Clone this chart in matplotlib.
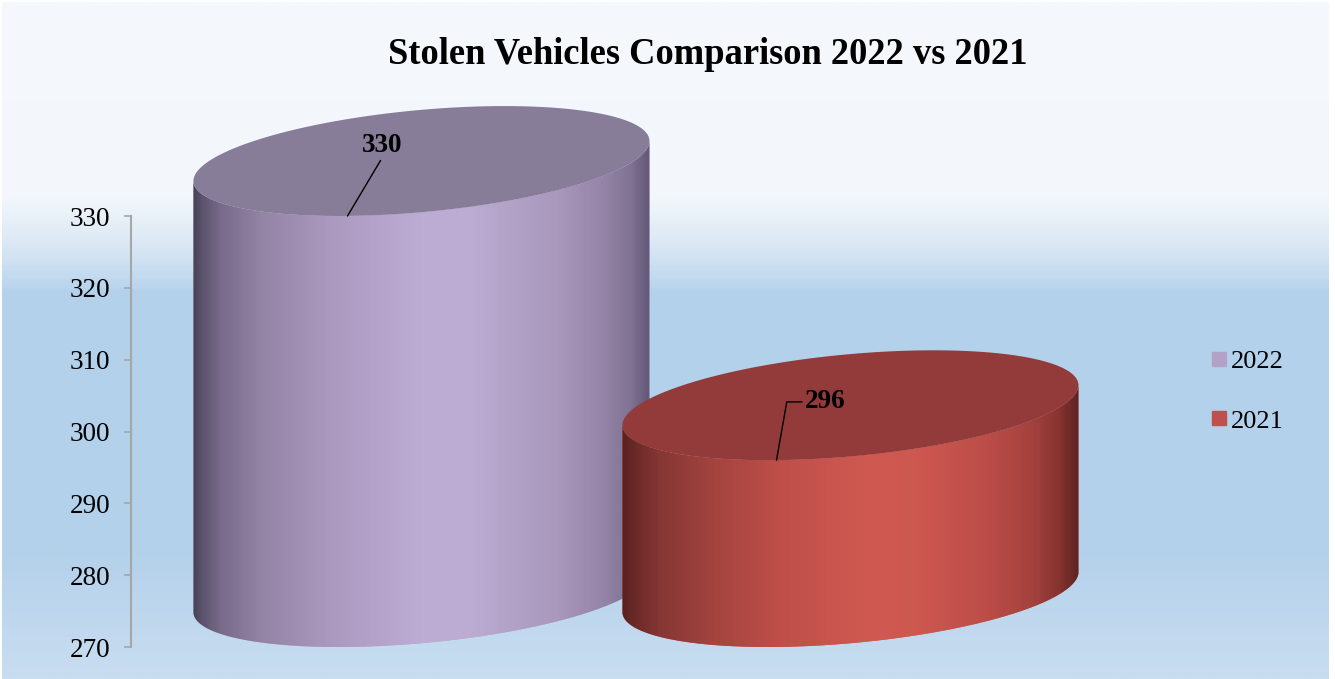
import numpy as np
import matplotlib
matplotlib.use("Agg")
import matplotlib.pyplot as plt
from matplotlib.colors import LinearSegmentedColormap
from matplotlib.patches import Polygon
from matplotlib.lines import Line2D

# data
years = ["2022", "2021"]
stolen = [330, 296]
yticks = [270, 280, 290, 300, 310, 320, 330]

plt.rcParams['font.family'] = ['Liberation Serif', 'DejaVu Serif']

W, H = 1335, 679
fig = plt.figure(figsize=(W / 100, H / 100), dpi=100)

# background gradient (white on top, light blue below)
bg = fig.add_axes([2 / W, 0, (W - 8) / W, (H - 2) / H])
bg_cmap = LinearSegmentedColormap.from_list("bg", [
    (0.0, "#F5F8FC"), (195 / 679, "#F3F7FB"), (245 / 679, "#D9E7F4"),
    (284 / 679, "#BCD6EE"), (290 / 679, "#B3D1EB"), (560 / 679, "#B5D2EB"),
    (1.0, "#C9DDF0")])
bg.imshow(np.linspace(0, 1, 400).reshape(-1, 1), cmap=bg_cmap, aspect='auto')
bg.axis('off')

# main axes: y scale 270..330 on the left spine, room above for the cylinder tops
ymin, ymax = 268, 348
ppu = 431 / 60  # pixels per y unit
bot_px = 647 + (270 - ymin) * ppu
top_px = 216 - (ymax - 330) * ppu
ax = fig.add_axes([131 / W, (H - bot_px) / H, (1110 - 131) / W, (bot_px - top_px) / H])
ax.patch.set_visible(False)

x = np.arange(len(stolen))
width = 1.063
a = width / 2
b = 51.2 / ppu   # vertical radius of the ellipse
s = 20 / ppu     # tilt of the ellipse (right side higher)
half = np.hypot(b, s)
base = 270

side_colors = [
    [(0.0, "#4B4459"), (0.02, "#5E5570"), (0.06, "#786C8A"), (0.15, "#9484A6"),
     (0.32, "#AE9BC2"), (0.5, "#BCABD3"), (0.6, "#BDACD3"), (0.8, "#A998BC"),
     (0.9, "#9584A8"), (0.96, "#807393"), (1.0, "#65597A")],
    [(0.0, "#5A2220"), (0.03, "#6E2B29"), (0.08, "#853734"), (0.2, "#A4443F"),
     (0.35, "#BF4F49"), (0.55, "#D05A52"), (0.65, "#CD5850"), (0.8, "#BC4D48"),
     (0.9, "#A4423E"), (0.96, "#86332F"), (1.0, "#5F2522")],
]
top_colors = ["#877D99", "#933B3A"]
legend_colors = ["#B3A2C7", "#C0504D"]

t_front = np.linspace(np.pi, 2 * np.pi, 200)
t_all = np.linspace(0, 2 * np.pi, 400)

for i, v in enumerate(stolen):
    xc = x[i]
    yb = base + half   # centre of bottom ellipse
    yt = v + half      # centre of top ellipse (front edge sits at the value)
    z = 2 + 2 * i

    bx = xc + a * np.cos(t_front)
    by = yb + b * np.sin(t_front) + s * np.cos(t_front)
    tx = xc + a * np.cos(t_front[::-1])
    ty = yt + b * np.sin(t_front[::-1]) + s * np.cos(t_front[::-1])
    side = Polygon(np.column_stack([np.r_[bx, tx], np.r_[by, ty]]), closed=True,
                   facecolor=side_colors[i][5][1], edgecolor='none', zorder=z)
    ax.add_patch(side)

    cmap = LinearSegmentedColormap.from_list("side%d" % i, side_colors[i])
    im = ax.imshow(np.linspace(0, 1, 300).reshape(1, -1), cmap=cmap, aspect='auto',
                   extent=[xc - a, xc + a, base - 1, yt + half + 1],
                   interpolation='bilinear', zorder=z)
    im.set_clip_path(side)

    ex = xc + a * np.cos(t_all)
    ey = yt + b * np.sin(t_all) + s * np.cos(t_all)
    ax.add_patch(Polygon(np.column_stack([ex, ey]), closed=True,
                         facecolor=top_colors[i], edgecolor='none', zorder=z + 1))

# value labels with leader lines
label_offsets = [(25, 51), (35, 42)]
label_arrows = [
    dict(arrowstyle='-', color='black', lw=1, relpos=(0.5, 0), shrinkA=0, shrinkB=0),
    dict(arrowstyle='-', color='black', lw=1, relpos=(0, 0.5), shrinkA=0, shrinkB=0,
         connectionstyle='angle,angleA=0,angleB=80,rad=0'),
]
for i, v in enumerate(stolen):
    fx = x[i] - a * s / half + 0.021
    ax.annotate(str(v), xy=(fx, v), xytext=label_offsets[i], textcoords='offset points',
                ha='center', va='center', fontsize=19.5, fontweight='bold',
                arrowprops=label_arrows[i], zorder=10)

ax.set_xlim(-0.677, 1.605)
ax.set_ylim(ymin, ymax)
ax.set_yticks(yticks)
ax.set_xticks([])
for sp in ['top', 'right', 'bottom']:
    ax.spines[sp].set_visible(False)
ax.spines['left'].set_bounds(270, 330)
ax.spines['left'].set_color('#A6A6A6')
ax.spines['left'].set_linewidth(1.5)
ax.tick_params(axis='y', length=5, width=1.2, color='#A6A6A6', pad=10, labelsize=19.5)

fig.text(708 / W, 1 - 55 / H, "Stolen Vehicles Comparison 2022 vs 2021",
         ha='center', va='center', fontsize=26.3, fontweight='bold')

handles = [Line2D([], [], marker='s', ls='none', markersize=10, color=c) for c in legend_colors]
fig.legend(handles, years, loc='center left', bbox_to_anchor=(1185 / W, 1 - 391 / H),
           frameon=False, fontsize=19, labelspacing=1.38, handlelength=0.8,
           handletextpad=0.05)

fig.savefig("out.png", dpi=100)
